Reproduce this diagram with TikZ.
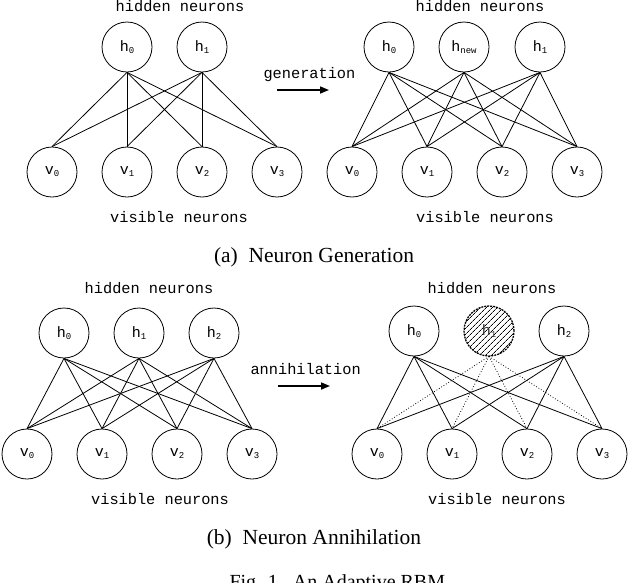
\documentclass[tikz,border=0pt]{standalone}
\usepackage{fontspec}
\setmainfont{Liberation Serif}
\setmonofont{Liberation Mono}
\usetikzlibrary{patterns.meta,arrows.meta}
\newcommand\nsub[1]{\raisebox{-2pt}{\fontsize{9}{9}\selectfont #1}}
\begin{document}
\begin{tikzpicture}[x=1pt,y=-1pt,
  neuron/.style={circle,draw,line width=0.8pt,minimum size=50pt,inner sep=0pt,font=\fontsize{15}{15}\ttfamily},
  deadneuron/.style={neuron,dash pattern=on 2pt off 1pt,line width=1.3pt,
     pattern={Lines[angle=45,distance=4pt,line width=0.7pt]},text=black!80},
  lab/.style={font=\fontsize{15.3}{15}\ttfamily,anchor=base},
  captext/.style={font=\fontsize{21.5}{24}\rmfamily,anchor=base},
  edge/.style={line width=0.8pt},
  dotedge/.style={line width=0.8pt,dotted},
  bigarrow/.style={line width=1.6pt,-{Triangle[length=9pt,width=7pt]}}]
\useasboundingbox (0,0) rectangle (628,582);
\clip (0,0) rectangle (628,582);

% ---------- (a) left ----------
\node[neuron] (a0) at (127,47) {h\nsub{0}};
\node[neuron] (a1) at (202,47) {h\nsub{1}};
\foreach \i/\x in {0/52,1/127,2/202,3/277}
  \node[neuron] (av\i) at (\x,172) {v\nsub{\i}};
\foreach \h in {0,1}
  \foreach \v in {0,1,2,3}
    \draw[edge] (a\h.south) -- (av\v.north);
\node[lab] (alh) at (180,11) {hidden neurons};
\node[lab] (alv) at (179,222) {visible neurons};

% arrow generation
\node[lab,anchor=base west] (gen) at (260,78) {generation};
\coordinate (g1) at (277,90);
\coordinate (g2) at (329,90);
\draw[bigarrow] (g1) -- (g2);

% ---------- (a) right ----------
\node[neuron] (b0) at (389,47) {h\nsub{0}};
\node[neuron] (bn) at (464,47) {h\nsub{new}};
\node[neuron] (b1) at (540,47) {h\nsub{1}};
\foreach \i/\x in {0/352,1/427,2/502,3/577}
  \node[neuron] (bv\i) at (\x,172) {v\nsub{\i}};
\foreach \h in {0,n,1}
  \foreach \v in {0,1,2,3}
    \draw[edge] (b\h.south) -- (bv\v.north);
\node[lab] (blh) at (480,11) {hidden neurons};
\node[lab] (blv) at (485,222) {visible neurons};

\node[captext] (capa) at (314,262) {(a)\hspace{0.5em}Neuron Generation};

% ---------- (b) left ----------
\foreach \i/\x in {0/64,1/139,2/214}
  \node[neuron] (c\i) at (\x,333) {h\nsub{\i}};
\foreach \i/\x in {0/27,1/102,2/177,3/252}
  \node[neuron] (cv\i) at (\x,454) {v\nsub{\i}};
\foreach \h in {0,1,2}
  \foreach \v in {0,1,2,3}
    \draw[edge] (c\h.south) -- (cv\v.north);
\node[lab] (clh) at (149,293) {hidden neurons};
\node[lab] (clv) at (160,504) {visible neurons};

% arrow annihilation
\node[lab,anchor=base west] (ann) at (247,374) {annihilation};
\coordinate (n1) at (278,386);
\coordinate (n2) at (330,386);
\draw[bigarrow] (n1) -- (n2);

% ---------- (b) right ----------
\node[neuron] (d0) at (414,331) {h\nsub{0}};
\node[deadneuron] (d1) at (489,331) {h\nsub{1}};
\node[neuron] (d2) at (564,331) {h\nsub{2}};
\foreach \i/\x in {0/377,1/452,2/527,3/602}
  \node[neuron] (dv\i) at (\x,454) {v\nsub{\i}};
\foreach \h in {0,2}
  \foreach \v in {0,1,2,3}
    \draw[edge] (d\h.south) -- (dv\v.north);
\foreach \v in {0,1,2,3}
  \draw[dotedge] (d1.south) -- (dv\v.north);
\node[lab] (dlh) at (492,293) {hidden neurons};
\node[lab] (dlv) at (497,504) {visible neurons};

\node[captext] (capb) at (314,544) {(b)\hspace{0.5em}Neuron Annihilation};
\node[captext,anchor=base west,font=\fontsize{20}{22}\rmfamily] (fig) at (226,588) {Fig. 1.\hspace{0.5em}An Adaptive RBM};
\end{tikzpicture}
\end{document}
